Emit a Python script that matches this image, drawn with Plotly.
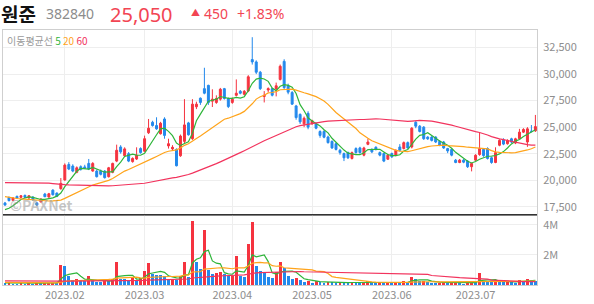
import plotly.graph_objects as go
import numpy as np

# ---------------- data ----------------
tick_pos = [15, 35, 57, 77, 97, 118]
tick_text = ["2023.02", "2023.03", "2023.04", "2023.05", "2023.06", "2023.07"]

open_ = [17850,18380,18100,18470,18380,18560,18320,18400,17850,17950,18690,18410,19060,18780,
         19200,20020,21480,21330,20740,21270,21250,21580,20860,20860,20860,20860,20330,20740,21800,23130,
         22300,22500,21750,22000,22980,22730,24470,25460,25150,24380,25770,23230,22950,22900,22300,23660,
         25400,23910,26920,27730,28630,28940,27450,27330,27640,28630,27700,27330,28000,28380,28100,28410,
         31370,31150,30180,27890,28500,28630,28600,29500,31200,28900,28260,27000,26200,25310,26300,25370,
         25310,24590,24600,24070,23660,23440,22820,22510,22600,22050,22980,23040,22360,23380,22900,23100,
         22600,22510,21980,22510,22350,23130,22980,23540,23130,25460,25090,25000,24060,24060,24060,23660,
         23600,22980,22900,21890,21670,21890,21800,21270,21890,22420,22900,22980,22110,21670,23290,23800,
         23440,23900,23500,23910,24530,23600,24600,24650]
high = [17950,18450,18400,18550,18600,18650,18600,18500,17950,18300,18800,18800,19150,18850,
        20200,21580,21700,21500,21300,21400,21450,22000,21700,21000,21000,20950,21250,21650,23350,23300,
        23100,22650,22150,23100,23100,24200,25770,25600,25930,25500,25930,23910,23300,23000,24300,27640,
        25500,27640,27400,27800,30600,29000,28570,28000,28700,28700,27800,27800,29500,28500,28500,29900,
        33480,31300,30300,28400,28750,28700,29200,30900,31400,29100,28400,27100,26300,26000,26500,25700,
        25450,24700,24700,24200,23750,23550,22950,22600,22700,22700,23100,23150,23150,23910,23000,23200,
        22700,22600,22450,22600,22900,23400,23650,23650,25000,25560,25200,25100,24150,24150,24150,23750,
        23700,23050,23000,22000,22000,22000,21900,21650,22450,24530,23000,23100,22200,23100,23850,23950,
        23850,24000,24000,24840,24900,25000,25200,26150]
low = [17600,18000,18050,18250,18300,18300,18250,18100,17600,17900,18400,18350,18550,18400,
       19100,19950,20950,20750,20650,20900,21050,20950,20800,20250,20450,20150,20250,20650,21700,22500,
       22200,21700,21650,21900,22500,22650,24350,25050,24750,24300,23910,22980,22800,21300,22200,23500,
       24200,23800,26700,27100,28100,27100,26900,27200,27500,27600,26800,27200,27900,28100,28000,28300,
       30900,30000,28500,27330,28300,27900,27900,29400,28600,28100,27100,25700,25300,25000,24800,25200,
       24800,24000,23950,23450,22950,22800,22400,21800,22000,21950,22500,22500,22250,23300,22550,22800,
       22250,21700,21900,22100,22250,22700,22900,22950,23000,24900,24500,23800,23800,23650,23500,23200,
       22950,22550,22250,21600,21600,21600,21150,20830,21800,22300,22200,21950,21550,21600,23200,23300,
       23350,23500,23400,23850,24450,23140,24500,24550]
close = [17650,18070,18320,18320,18530,18380,18530,18130,17650,18220,18440,18720,18630,18470,
         19700,21420,21050,20860,21170,21020,21150,21050,21580,20330,20550,20240,21170,21580,22820,22670,
         22950,21800,22050,22350,22600,23910,24900,25150,24840,25370,24220,23440,23100,21360,24160,25210,
         24280,27170,27170,27330,28200,27330,27640,27700,28570,27700,26940,27640,28200,28200,28380,29750,
         31150,30180,28630,28010,28630,28010,28900,30740,28730,28300,27170,25900,25500,25840,25000,25620,
         24900,24220,24050,23540,23040,22900,22600,22110,22110,22600,22600,22600,23040,23600,22670,22900,
         22360,21800,22360,22200,22820,22820,23540,23040,24900,25090,24590,23910,23900,23750,23600,23290,
         23040,22760,22360,21670,21890,21700,21270,21580,22350,22980,22320,22050,21670,22600,23750,23400,
         23750,23600,23900,24530,24780,24840,24600,25050]
volume = [120000,140000,110000,100000,120000,90000,130000,110000,150000,120000,130000,150000,170000,140000,
          1360000,1250000,620000,370000,440000,260000,250000,580000,350000,200000,180000,320000,270000,440000,
          1560000,440000,400000,360000,460000,320000,460000,970000,1500000,750000,680000,660000,620000,360000,
          400000,330000,620000,1560000,550000,4280000,1560000,1080000,3650000,1000000,720000,800000,860000,
          720000,580000,620000,1940000,620000,550000,2730000,4200000,1250000,930000,860000,550000,460000,
          860000,1560000,1150000,620000,420000,500000,330000,220000,300000,150000,250000,
          200000,170000,230000,180000,150000,190000,160000,140000,200000,150000,130000,170000,260000,180000,
          150000,200000,130000,160000,120000,180000,150000,
          250000,210000,560000,420000,250000,300000,180000,150000,140000,160000,200000,150000,170000,180000,
          130000,110000,160000,200000,180000,800000,300000,220000,180000,280000,250000,200000,230000,180000,
          170000,330000,260000,380000,350000,260000]

# sessions before the visible window (only used to warm up the moving averages)
prior_close = [18300,18150,18250,18100,18200,18300,18150,18150,
               18800,19500,20300,21000,21500,21900,22300,22100,21800,22000,21600,21400,21700,21500,21200,21000,
               21300,21100,20900,21200,21000,20800,20900,21100,20800,20600,20700,20500,20300,20400,20100,19900,
               19600,19400,19200,19300,19000,18900,19100,18800,18700,18900,18600,18500,18400,18300,18100,
               17400,17100,16900,17050]
prior_volume = [350000,420000,380000,300000,280000,450000,390000,310000,260000,330000,300000,280000,350000,
                420000,300000,270000,260000,310000,340000,290000,330000,300000,280000,260000,350000,310000,
                290000,270000,320000,300000,280000,360000,330000,300000,290000,270000,310000,340000,300000,280000,
                220000,200000,190000,210000,180000,170000,200000,190000,160000,180000,170000,150000,190000,
                180000,160000,170000,150000,140000,160000]

ma_periods = [5, 20, 60]
ma_colors = ["#2fb53a", "#ffa41b", "#f2335d"]
UP = "#f5333f"
DN = "#2389ec"

# ---------------- helpers ----------------
def sma(prior, vals, n):
    a = np.array(prior + vals, dtype=float)
    out = []
    for i in range(len(prior), len(a)):
        out.append(a[i - n + 1:i + 1].mean())
    return out

N = len(close)
x = list(range(N))

fig = go.Figure()
fig.add_trace(go.Candlestick(
    x=x, open=open_, high=high, low=low, close=close,
    increasing=dict(line=dict(color=UP, width=1), fillcolor=UP),
    decreasing=dict(line=dict(color=DN, width=1), fillcolor=DN),
    whiskerwidth=0, showlegend=False, hoverinfo="skip", xaxis="x", yaxis="y"))

for n, c in zip(ma_periods, ma_colors):
    fig.add_trace(go.Scatter(x=x, y=sma(prior_close, close, n), mode="lines",
                             line=dict(color=c, width=1.2), showlegend=False,
                             hoverinfo="skip", xaxis="x", yaxis="y"))

prev = [prior_volume[-1]] + volume[:-1]
vcol = [UP if v >= p else DN for v, p in zip(volume, prev)]
fig.add_trace(go.Bar(x=x, y=volume, marker=dict(color=vcol, line=dict(width=0)), width=0.72,
                     showlegend=False, hoverinfo="skip", xaxis="x2", yaxis="y2"))
for n, c in zip(ma_periods, ma_colors):
    fig.add_trace(go.Scatter(x=x, y=sma(prior_volume, volume, n), mode="lines",
                             line=dict(color=c, width=1.2), showlegend=False,
                             hoverinfo="skip", xaxis="x2", yaxis="y2"))

L, R, T, B = 2, 57, 30, 16
W, H = 594, 304
pw, ph = W - L - R, H - T - B
split = (288 - 217) / ph

def px(xp):
    return (xp - L) / pw

def py(yp):
    return (H - B - yp) / ph

GRID = "#eeeeee"
AX = "#cfcfcf"
TF = dict(family="Noto Sans CJK KR, Noto Sans, sans-serif", size=11, color="#8e8e8e")

fig.update_layout(
    width=W, height=H, margin=dict(l=L, r=R, t=T, b=B),
    paper_bgcolor="white", plot_bgcolor="white", bargap=0,
    font=dict(family="Noto Sans CJK KR, Noto Sans, sans-serif"),
    xaxis=dict(domain=[0, 1], anchor="y", range=[-0.5, 133.4], tickvals=tick_pos,
               showticklabels=False, showgrid=True, gridcolor=GRID, zeroline=False,
               rangeslider=dict(visible=False), showline=True, mirror=True, linecolor=AX, ticks=""),
    xaxis2=dict(domain=[0, 1], anchor="y2", range=[-0.5, 133.4], tickvals=tick_pos, ticktext=tick_text,
                showgrid=True, gridcolor=GRID, zeroline=False, tickfont=TF, ticks="",
                showline=True, mirror=True, linecolor=AX, matches="x"),
    yaxis=dict(domain=[split, 1], anchor="x", side="right", range=[16733, 34160],
               tickvals=[17500, 20000, 22500, 25000, 27500, 30000, 32500], tickformat=",",
               showgrid=True, gridcolor=GRID, zeroline=False, tickfont=TF, ticks="",
               showline=True, mirror=True, linecolor=AX, ticklabelstandoff=3),
    yaxis2=dict(domain=[0, split], anchor="x2", side="right", range=[0, 4.67e6],
                tickvals=[2e6, 4e6], ticktext=["2M", "4M"], showgrid=True, gridcolor=GRID,
                zeroline=False, tickfont=TF, ticks="", showline=True, mirror=True, linecolor=AX,
                ticklabelstandoff=3),
)

fig.add_shape(type="line", xref="paper", yref="paper", x0=0, x1=1, y0=split, y1=split,
              line=dict(color="#333333", width=1.5))

def ann(text, xp, yp, size, color, xanchor="left", bold=False,
        family="Noto Sans CJK KR, Noto Sans, sans-serif"):
    fig.add_annotation(text=("<b>%s</b>" % text) if bold else text, xref="paper", yref="paper",
                       x=px(xp), y=py(yp), xanchor=xanchor, yanchor="middle", showarrow=False,
                       borderpad=0, font=dict(size=size, color=color, family=family))

RED_T = "#f24553"
NUMF = "Noto Sans, sans-serif"
ann("원준", -1, 13, 19, "#111111", bold=True)
ann("382840", 44, 13, 14, "#8c8c8c", family=NUMF)
ann("25,050", 108, 14, 20, RED_T, family=NUMF)
ann("▲", 189, 12, 9, RED_T)
ann("450", 202, 13, 14, RED_T, family=NUMF)
ann("+1.83%", 235, 13, 14, RED_T, family=NUMF)
ann("이동평균선 <span style='color:%s'>5</span> <span style='color:%s'>20</span> "
    "<span style='color:%s'>60</span>" % tuple(ma_colors), 5, 41, 10, "#9a9a9a")
ann("©PAXNet", 41, 207, 14, "rgba(150,150,150,0.55)", xanchor="center", bold=True)

fig.write_html("out.html")
